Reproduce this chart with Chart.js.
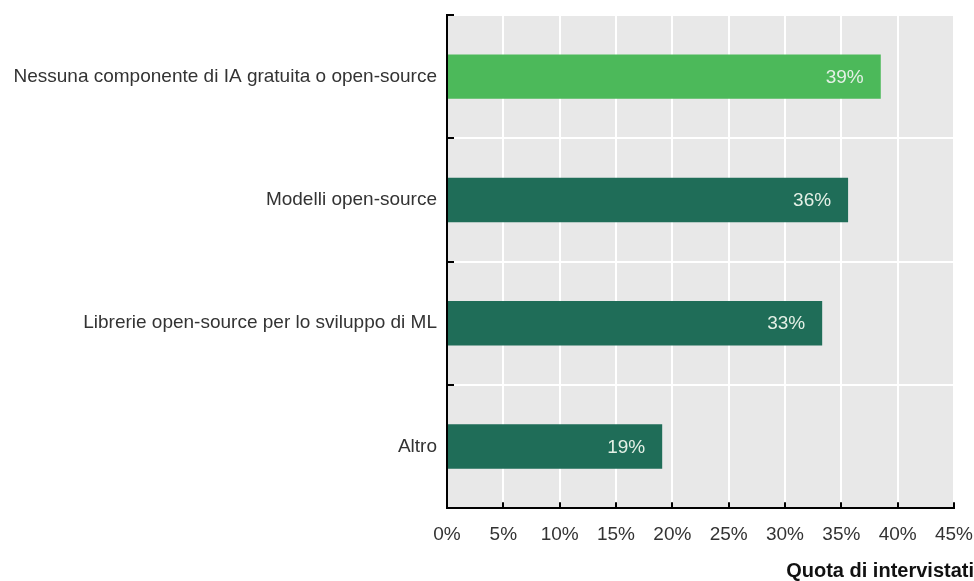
<!DOCTYPE html>
<html>
<head>
<meta charset="utf-8">
<script src="https://cdn.jsdelivr.net/npm/chart.js@4"></script>
<style>
  html, body { margin: 0; padding: 0; background: #fff; }
  #box { width: 974px; height: 581px; }
</style>
</head>
<body>
<div id="box"><canvas id="grafico"></canvas></div>
<script>
  const categorie = [
    "Nessuna componente di IA gratuita o open-source",
    "Modelli open-source",
    "Librerie open-source per lo sviluppo di ML",
    "Altro"
  ];
  const valori = [38.5, 35.6, 33.3, 19.1];
  const etichette = ["39%", "36%", "33%", "19%"];
  const coloriBarre = ["#4cb95a", "#1f6d58", "#1f6d58", "#1f6d58"];
  const titoloAsse = "Quota di intervistati";

  const FONT = "'Liberation Sans', Arial, sans-serif";

  // sfondo grigio dell'area del grafico
  const sfondo = {
    id: "sfondo",
    beforeDraw(chart) {
      const { ctx, chartArea: a } = chart;
      ctx.save();
      ctx.fillStyle = "#e8e8e8";
      ctx.fillRect(a.left, a.top, a.right - a.left, a.bottom - a.top);
      ctx.restore();
    }
  };

  // tacche verso l'interno + etichette dentro le barre
  const extra = {
    id: "extra",
    afterDraw(chart) {
      const { ctx, chartArea: a } = chart;
      const x = chart.scales.x, y = chart.scales.y;
      ctx.save();
      ctx.strokeStyle = "#000";
      ctx.lineWidth = 2;
      x.ticks.forEach((t, i) => {
        if (i === 0) return;
        const px = Math.round(x.getPixelForTick(i));
        ctx.beginPath();
        ctx.moveTo(px, a.bottom);
        ctx.lineTo(px, a.bottom - 6);
        ctx.stroke();
      });
      const limiti = [a.top];
      for (let i = 0; i < categorie.length - 1; i++) {
        limiti.push((y.getPixelForTick(i) + y.getPixelForTick(i + 1)) / 2);
      }
      limiti.forEach(py => {
        ctx.beginPath();
        ctx.moveTo(a.left, Math.round(py));
        ctx.lineTo(a.left + 7, Math.round(py));
        ctx.stroke();
      });

      const meta = chart.getDatasetMeta(0);
      ctx.fillStyle = "#e4f0e6";
      ctx.font = "19px " + FONT;
      ctx.textAlign = "right";
      ctx.textBaseline = "middle";
      meta.data.forEach((bar, i) => {
        ctx.fillText(etichette[i], bar.x - 17, bar.y + 1);
      });
      ctx.restore();
    }
  };

  new Chart(document.getElementById("grafico"), {
    type: "bar",
    data: {
      labels: categorie,
      datasets: [{
        data: valori,
        backgroundColor: coloriBarre,
        categoryPercentage: 1,
        barPercentage: 0.36
      }]
    },
    options: {
      indexAxis: "y",
      responsive: true,
      maintainAspectRatio: false,
      animation: false,
      layout: { padding: { top: 15, right: 0, left: 0, bottom: 0 } },
      plugins: {
        legend: { display: false },
        tooltip: { enabled: false },
        title: {
          display: true,
          text: titoloAsse,
          position: "bottom",
          align: "end",
          color: "#111",
          font: { family: FONT, size: 20, weight: "bold", lineHeight: 1 },
          padding: { top: 0, bottom: 0 }
        }
      },
      scales: {
        x: {
          min: 0,
          max: 45,
          ticks: {
            stepSize: 5,
            color: "#333",
            font: { family: FONT, size: 19 },
            padding: 15,
            callback: v => v + "%"
          },
          grid: { color: "#ffffff", lineWidth: 2, drawTicks: false },
          border: { color: "#000", width: 2 },
          afterFit(scale) { scale.paddingRight = 20; }
        },
        y: {
          ticks: {
            color: "#333",
            font: { family: FONT, size: 19 },
            padding: 10
          },
          grid: { color: "#ffffff", lineWidth: 2, offset: true, drawTicks: false },
          border: { color: "#000", width: 2 },
          afterFit(scale) {
            scale.width = 447;
            scale.paddingTop = 0;
            scale.paddingBottom = 0;
          }
        }
      }
    },
    plugins: [sfondo, extra]
  });
</script>
</body>
</html>
